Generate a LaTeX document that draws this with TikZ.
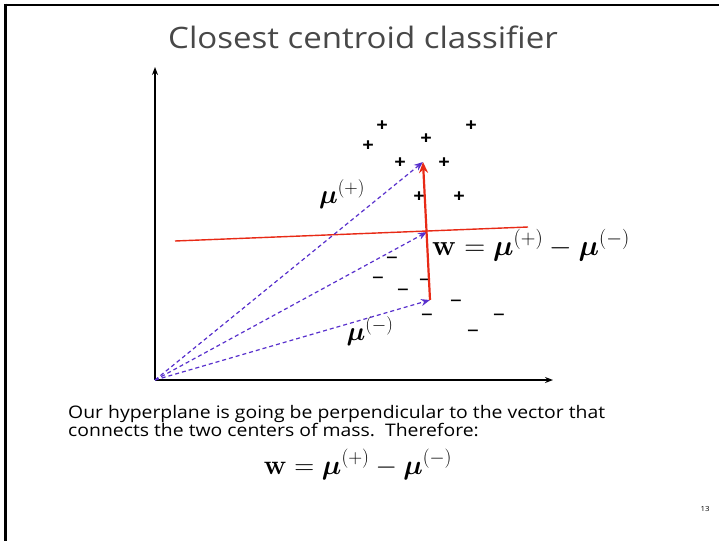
\RequirePackage{fix-cm}
\documentclass[tikz,border=0pt]{standalone}
\usepackage{amsmath,bm}
\usepackage[no-math]{fontspec}
\setmainfont{Open Sans}[FakeStretch=1.12]
\usetikzlibrary{arrows.meta}
\definecolor{redl}{RGB}{232,42,22}
\definecolor{purp}{RGB}{88,48,205}
\definecolor{titlegray}{RGB}{72,72,72}
\tikzset{
  axis/.style={line width=1.4pt, -{Stealth[length=8pt,width=6pt]}},
  border/.style={line width=2.6pt},
  dvec/.style={purp, line width=1.2pt, dash pattern=on 4pt off 3pt, -{Stealth[length=9pt,width=7pt]}},
  hyper/.style={redl, line width=1.4pt},
  wvec/.style={redl, line width=2.2pt, -{Stealth[length=11pt,width=9pt]}},
  pt/.style={inner sep=0pt, font=\fontsize{18}{18}\selectfont\bfseries},
  ms/.style={inner sep=0pt, font=\fontsize{21}{21}\selectfont},
  mlab/.style={inner sep=0pt, font=\fontsize{26.5}{30}\selectfont},
  body/.style={inner sep=0pt, anchor=base west, font=\fontsize{17.3}{20}\selectfont},
}
\begin{document}
\begin{tikzpicture}[x=1pt,y=-1pt]
\useasboundingbox (0,0) rectangle (719,541);
\fill[white] (0,0) rectangle (719,541);
\draw[border] (4.2,5) -- (719,5);
\draw[border] (5.5,3.7) -- (5.5,541);
\node[anchor=base, inner sep=0pt, text=titlegray, font=\fontsize{29.5}{32}\selectfont] (title) at (363,48) {Closest centroid classifier};
% axes
\coordinate (O) at (155,380);
\coordinate (ytop) at (155,67);
\coordinate (xend) at (553,380);
\draw[axis] (O) -- (ytop);
\draw[axis] (O) -- (xend);
% hyperplane
\coordinate (h1) at (175,241);
\coordinate (h2) at (528,227);
\draw[hyper] (h1) -- (h2);
% points
\foreach \x/\y [count=\i] in {382/126,471/126,368/146,426/139,400/163,444/163,419/197,459/197}
  \node[pt] (p\i) at (\x,\y) {+};
\foreach \x/\y [count=\i] in {392/260,378/280,425/282,403/292,456/303,427/317,499/317,473/333}
  \node[ms] (n\i) at (\x,\y) {–};
% centroids
\coordinate (mup) at (423,162);
\coordinate (mum) at (430,300);
\coordinate (mid) at (427,232);
\draw[dvec] (O) -- (mup);
\draw[dvec] (O) -- (mid);
\draw[dvec] (O) -- (mum);
\draw[wvec] (mum) -- (mup);
\node[mlab, anchor=base] (lp) at (342,203) {$\boldsymbol{\mu}^{(+)}$};
\node[mlab, anchor=base] (lm) at (370,340) {$\boldsymbol{\mu}^{(-)}$};
\node[mlab, anchor=base west, font=\fontsize{29}{32}\selectfont] (lw) at (432,255) {$\mathbf{w}=\boldsymbol{\mu}^{(+)}-\boldsymbol{\mu}^{(-)}$};
% text
\node[body] (t1) at (68,418) {Our hyperplane is going be perpendicular to the vector that};
\node[body] (t2) at (68,436) {connects the two centers of mass.\ \ Therefore:};
\node[mlab, anchor=base, font=\fontsize{27.6}{30}\selectfont] (eq) at (358,474) {$\mathbf{w}=\boldsymbol{\mu}^{(+)}-\boldsymbol{\mu}^{(-)}$};
\node[inner sep=0pt, anchor=base, font=\fontsize{7}{8}\selectfont] (pg) at (705,511) {13};
\end{tikzpicture}
\end{document}
